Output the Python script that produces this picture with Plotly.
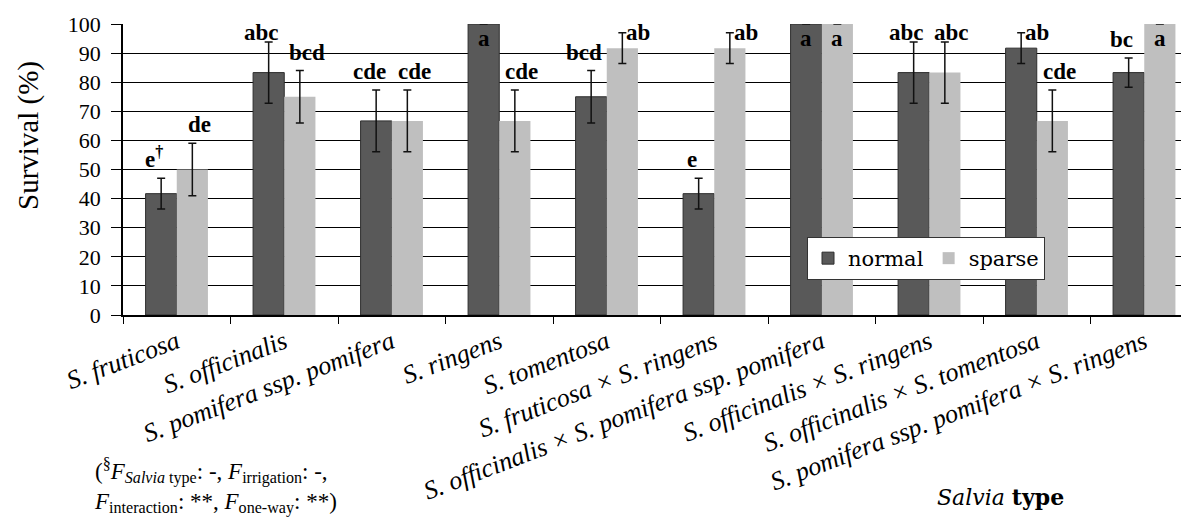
import plotly.graph_objects as go

categories = [
    "S. fruticosa", "S. officinalis", "S. pomifera ssp. pomifera", "S. ringens",
    "S. tomentosa", "S. fruticosa × S. ringens",
    "S. officinalis × S. pomifera ssp. pomifera", "S. officinalis × S. ringens",
    "S. officinalis × S. tomentosa", "S. pomifera ssp. pomifera × S. ringens",
]
normal = [41.7, 83.3, 66.7, 100.0, 75.0, 41.7, 100.0, 83.3, 91.7, 83.3]
normal_err = [5.3, 10.5, 10.6, 0, 9.0, 5.3, 0, 10.5, 5.3, 5.0]
sparse = [50.0, 75.0, 66.7, 66.7, 91.7, 91.7, 100.0, 83.3, 66.7, 100.0]
sparse_err = [9.0, 9.0, 10.6, 10.6, 5.3, 5.3, 0, 10.5, 10.6, 0]
normal_letters = ["e<sup>†</sup>", "abc", "cde", "a", "bcd", "e", "a", "abc", "ab", "bc"]
sparse_letters = ["de", "bcd", "cde", "cde", "ab", "ab", "a", "abc", "cde", "a"]
y_ticks = list(range(0, 101, 10))

SERIF = "Liberation Serif"
WIDE_SERIF = "DejaVu Serif"
BARGAP = 0.42

# the page body adds an 8 px offset; work in reference-picture pixels and shift
OFF = 8
W, H = 1189 - OFF, 519 - OFF
PLOT_L, PLOT_T, PLOT_B = 123, 24, 315          # reference pixels
L, T = PLOT_L - OFF, PLOT_T - OFF
PH = PLOT_B - PLOT_T
PW = W - L
B = H - T - PH
CAT_PX = 107.5


def px(xr):
    return (xr - PLOT_L) / PW


def py(yr):
    return (PLOT_B - yr) / PH


fig = go.Figure()
fig.add_trace(go.Bar(
    x=categories, y=normal, name="normal",
    marker=dict(color="#595959", line=dict(color="#2e2e2e", width=1)),
    error_y=dict(type="data", array=normal_err, color="#111111", thickness=1.5, width=4),
))
fig.add_trace(go.Bar(
    x=categories, y=sparse, name="sparse",
    marker=dict(color="#bfbfbf", line=dict(width=0)),
    error_y=dict(type="data", array=sparse_err, color="#111111", thickness=1.5, width=4),
))

annotations = []
off = (1 - BARGAP) / 4
for series, errs, letters, sign in ((normal, normal_err, normal_letters, -1),
                                     (sparse, sparse_err, sparse_letters, 1)):
    for i, (v, e, lab) in enumerate(zip(series, errs, letters)):
        xpos = i + sign * off
        a = dict(x=xpos, xref="x", yref="y", text="<b>%s</b>" % lab, showarrow=False,
                 font=dict(family=SERIF, size=23, color="black"))
        top = v + e
        if v >= 100:
            a.update(y=100, yanchor="top", xanchor="center", yshift=0)
        elif top > 95:
            a.update(y=93.5, yanchor="bottom", xanchor="left", xshift=2, yshift=-4)
        else:
            a.update(y=min(top, 93.5), yanchor="bottom", xanchor="center",
                     xshift=sign * 7, yshift=-4 if top > 92 else 4)
        annotations.append(a)

# y-axis title
annotations.append(dict(x=px(29), y=py(136), xref="paper", yref="paper",
                        xanchor="center", yanchor="middle",
                        text="Survival (%)", textangle=-90, showarrow=False,
                        font=dict(family=SERIF, size=29, color="black")))
# x-axis title
annotations.append(dict(x=px(935), y=py(497), xref="paper", yref="paper",
                        xanchor="left", yanchor="middle",
                        text="<i>Salvia</i> <b>type</b>", showarrow=False,
                        font=dict(family=WIDE_SERIF, size=22, color="black")))
# footnote
annotations.append(dict(
    x=px(92), y=py(486), xref="paper", yref="paper",
    xanchor="left", yanchor="middle", align="left", showarrow=False,
    text=("(<sup>§</sup><i>F</i><sub><i>Salvia</i> type</sub>: -, <i>F</i><sub>irrigation</sub>: -,<br>"
          "<i>F</i><sub>interaction</sub>: **, <i>F</i><sub>one-way</sub>: **)"),
    font=dict(family=SERIF, size=23, color="black")))

fig.update_layout(
    width=W, height=H, autosize=False,
    margin=dict(l=L, r=0, t=T, b=B, pad=0),
    paper_bgcolor="white", plot_bgcolor="white",
    barmode="group", bargap=BARGAP, bargroupgap=0,
    showlegend=True,
    legend=dict(orientation="h", x=px(807), y=py(237),
                xanchor="left", yanchor="top",
                bgcolor="white", bordercolor="#333333", borderwidth=1,
                font=dict(family=WIDE_SERIF, size=21, color="black"),
                itemwidth=30, traceorder="normal"),
    annotations=annotations,
    font=dict(family=SERIF, color="black"),
)
fig.update_xaxes(
    type="category", range=[-0.5, -0.5 + PW / CAT_PX],
    showline=True, linecolor="black", linewidth=1.5,
    ticks="outside", tickson="boundaries", ticklen=7, tickwidth=1.3, tickcolor="black",
    tickangle=-21, tickfont=dict(family=SERIF, size=26, style="italic", color="black"),
    showgrid=False, zeroline=False, fixedrange=True,
)
fig.update_yaxes(
    range=[0, 100], tickvals=y_ticks, ticktext=[str(t) for t in y_ticks],
    showline=True, linecolor="black", linewidth=1.5,
    ticks="outside", ticklen=10, tickwidth=1.3, tickcolor="black",
    tickfont=dict(family=SERIF, size=22, color="black"), ticklabelstandoff=6,
    showgrid=True, gridcolor="black", gridwidth=1.3, zeroline=False,
)

fig.write_html("out.html")
